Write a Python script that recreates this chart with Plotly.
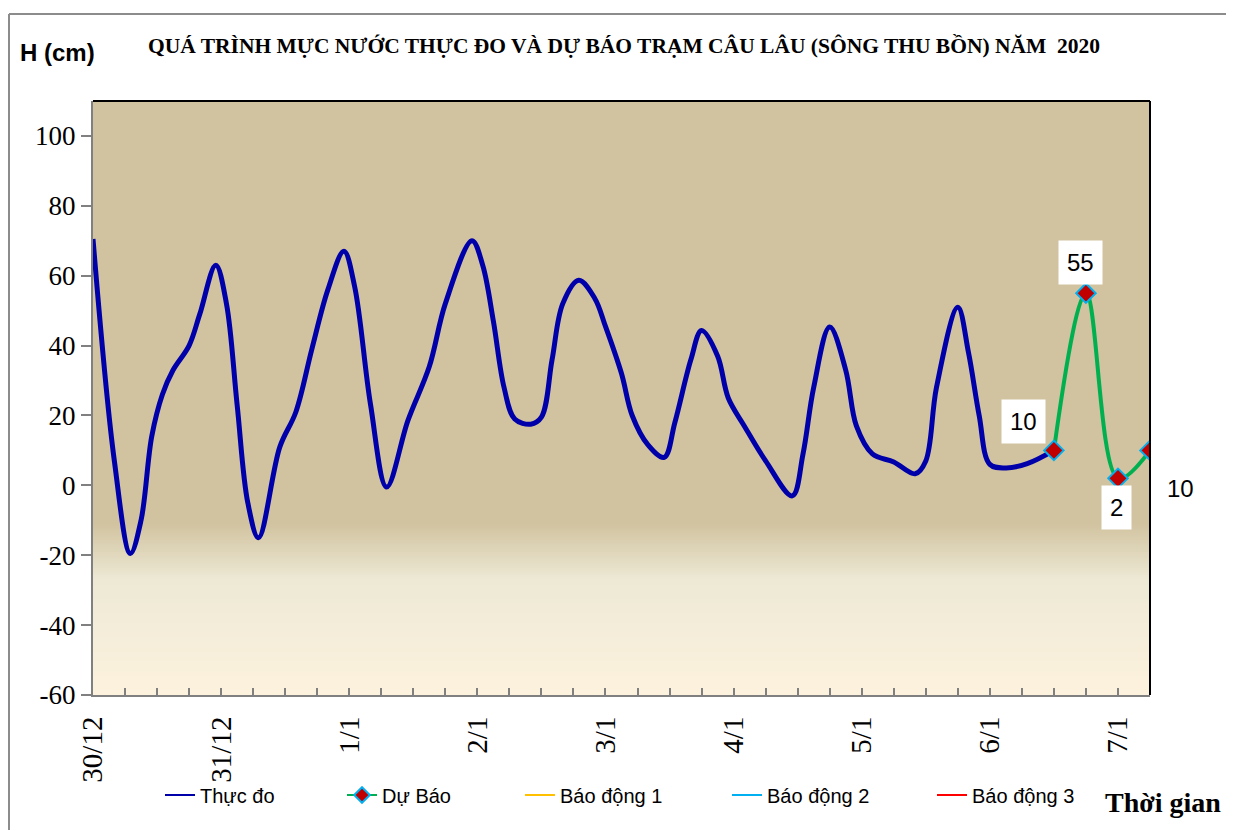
import plotly.graph_objects as go

# ---------------- data ----------------
obs_hours = [0, 4, 7, 9, 11, 13, 15, 18, 20, 23, 25, 27, 29, 31, 35, 38, 41, 44, 47, 49,
             52, 55, 59, 63, 66, 71, 73, 75, 77, 79, 82, 84, 86, 88, 91, 94, 96, 99, 101,
             104, 107, 109, 112, 114, 117, 119, 122, 126, 131, 133, 135, 138, 141, 143,
             146, 150, 154, 156, 158, 162, 164, 166, 168, 171, 175, 180]
obs_level = [70.5, 7, -19.5, -10, 14, 26, 33, 40, 49, 63, 52, 23, -5, -15, 11, 21, 39, 56, 67, 57,
             23, -0.5, 18.6, 34, 52, 70, 63, 47, 28, 19, 17.5, 19.5, 36, 52, 58.7, 53.5, 45.5, 32, 20,
             11.5, 8, 18, 36, 44.3, 37, 25, 17, 7, -3, 9, 28, 45.3, 33, 17,
             9, 6.7, 3.3, 7, 28, 51, 38, 20, 6, 5, 6.2, 10]

fc_hours = [180, 186, 192, 198]
fc_level = [10, 55, 2, 10]

alarm_names = ["Báo động 1", "Báo động 2", "Báo động 3"]
alarm_levels = [200, 300, 400]
alarm_colors = ["#FFC000", "#00B0F0", "#FF0000"]

day_labels = ["30/12", "31/12", "1/1", "2/1", "3/1", "4/1", "5/1", "6/1", "7/1"]
hours_per_day = 24

y_ticks = [-60, -40, -20, 0, 20, 40, 60, 80, 100]
y_range = [-60, 110]
x_range = [0, 198]

title_text = "QUÁ TRÌNH MỰC NƯỚC THỰC ĐO VÀ DỰ BÁO TRẠM CÂU LÂU (SÔNG THU BỒN) NĂM  2020"

# ---------------- geometry (page has an 8px body margin) ----------------
OFF = 8
W, H = 1234 - OFF, 830 - OFF
ML, MR, MT, MB = 93 - OFF, 84, 101 - OFF, 135
PW, PH = W - ML - MR, H - MT - MB


def px_x(px):
    return (px - OFF - ML) / PW


def px_y(py):
    return (H - MB - (py - OFF)) / PH


SERIF = "Liberation Serif"
SANS = "Liberation Sans"

fig = go.Figure()

fig.add_trace(go.Scatter(
    x=obs_hours, y=obs_level, mode="lines", name="Thực đo",
    line=dict(color="#0000AA", width=5, shape="spline", smoothing=1.0),
    showlegend=False,
))

fig.add_trace(go.Scatter(
    x=fc_hours, y=fc_level, mode="lines+markers", name="Dự Báo",
    line=dict(color="#00B050", width=4, shape="spline", smoothing=1.0),
    marker=dict(symbol="diamond", size=15, color="#C00000",
                line=dict(color="#00B0F0", width=2)),
    showlegend=False,
))

for nm, lv, col in zip(alarm_names, alarm_levels, alarm_colors):
    fig.add_trace(go.Scatter(
        x=[x_range[0], x_range[1]], y=[lv, lv], mode="lines", name=nm,
        line=dict(color=col, width=3), showlegend=False,
    ))

# legend entries (thin symbols as in the reference)
legend_items = [
    ("Thực đo", dict(color="#0000AA", width=2), None),
    ("Dự Báo", dict(color="#00B050", width=2),
     dict(symbol="diamond", size=12, color="#C00000", line=dict(color="#00B0F0", width=2))),
] + [(nm, dict(color=col, width=2), None) for nm, col in zip(alarm_names, alarm_colors)]

for i, (nm, ln, mk) in enumerate(legend_items):
    key = "legend" if i == 0 else "legend%d" % (i + 1)
    fig.add_trace(go.Scatter(
        x=[None], y=[None], mode="lines+markers" if mk else "lines", name=nm,
        line=ln, marker=mk, legend=key, showlegend=True, hoverinfo="skip",
    ))

annotations = []
# data labels
label_offsets = [(-30, 29, True), (-5, 31, True), (-1, -29, True), (30, -38, False)]
for hx, lv, (dx, dy, box) in zip(fc_hours, fc_level, label_offsets):
    annotations.append(dict(
        x=hx, y=lv, xref="x", yref="y", text=str(lv), showarrow=False, xshift=dx, yshift=dy,
        font=dict(family=SANS, size=24, color="black"),
        bgcolor="white" if box else "rgba(0,0,0,0)", borderpad=8,
    ))

annotations += [
    dict(xref="paper", yref="paper", x=px_x(18), y=px_y(52), text="<b>H (cm)</b>",
         showarrow=False, xanchor="left", yanchor="middle",
         font=dict(family=SANS, size=24, color="black")),
    dict(xref="paper", yref="paper", x=px_x(1223), y=px_y(802), text="<b>Thời gian</b>",
         showarrow=False, xanchor="right", yanchor="middle",
         font=dict(family=SERIF, size=28, color="black")),
]

# gradient background bands (styling); each band reaches the bottom so no seams show
shapes = []


def lerp(c1, c2, t):
    return tuple(int(round(a + (b - a) * t)) for a, b in zip(c1, c2))


tan = (209, 195, 160)
mid = (237, 233, 213)
cream = (253, 242, 222)
stops = [(-11, tan), (-27, mid), (-60, cream)]
n_sub = 24
for (v0, c0), (v1, c1) in zip(stops[:-1], stops[1:]):
    for k in range(n_sub):
        a = v0 + (v1 - v0) * k / n_sub
        c = lerp(c0, c1, (k + 0.5) / n_sub)
        shapes.append(dict(type="rect", xref="paper", yref="y", x0=0, x1=1, y0=y_range[0], y1=a,
                           fillcolor="rgb(%d,%d,%d)" % c, line=dict(width=0), layer="below"))

shapes.append(dict(type="line", xref="paper", yref="paper", x0=0, x1=1, y0=1, y1=1,
                   line=dict(color="black", width=2)))
shapes.append(dict(type="line", xref="paper", yref="paper", x0=1, x1=1, y0=0, y1=1,
                   line=dict(color="black", width=2)))
# outer chart frame
shapes.append(dict(type="line", xref="paper", yref="paper",
                   x0=px_x(9), x1=px_x(1300), y0=px_y(14), y1=px_y(14),
                   line=dict(color="#8C8C8C", width=2)))
shapes.append(dict(type="line", xref="paper", yref="paper",
                   x0=px_x(9), x1=px_x(9), y0=px_y(14), y1=px_y(900),
                   line=dict(color="#8C8C8C", width=2)))

legend_font = dict(family=SANS, size=20, color="black")
legend_x_px = [160, 342, 520, 727, 932]
legend_cfg = {}
for i, lx in enumerate(legend_x_px):
    key = "legend" if i == 0 else "legend%d" % (i + 1)
    legend_cfg[key] = dict(x=px_x(lx), y=px_y(795), xanchor="left", yanchor="middle",
                           orientation="h", font=legend_font, bgcolor="rgba(0,0,0,0)",
                           borderwidth=0, itemwidth=30)

fig.update_layout(
    width=W, height=H,
    margin=dict(l=ML, r=MR, t=MT, b=MB, pad=0, autoexpand=False),
    paper_bgcolor="white", plot_bgcolor="rgb(209,195,160)",
    title=dict(text="<b>%s</b>" % title_text, x=(624 - OFF) / W, xanchor="center",
               y=1 - (45 - OFF) / H, yanchor="middle", xref="container", yref="container",
               font=dict(family=SERIF, size=21.5, color="black")),
    shapes=shapes, annotations=annotations,
    showlegend=True,
    **legend_cfg,
    xaxis=dict(
        range=x_range, tickmode="array",
        tickvals=[i * hours_per_day for i in range(len(day_labels))], ticktext=day_labels,
        tickangle=-90, ticks="inside", ticklen=7, tickcolor="#808080", tickwidth=2,
        showline=True, linecolor="#808080", linewidth=2, showgrid=False, zeroline=False,
        tickfont=dict(family=SERIF, size=29, color="black"),
        minor=dict(dtick=6, tick0=0, ticks="inside", ticklen=7, tickcolor="#808080", tickwidth=2),
        ticklabelstandoff=8,
    ),
    yaxis=dict(
        range=y_range, tickmode="array", tickvals=y_ticks, ticktext=[str(v) for v in y_ticks],
        ticks="outside", ticklen=10, tickcolor="#808080", tickwidth=2,
        showline=True, linecolor="#808080", linewidth=2, showgrid=False, zeroline=False,
        tickfont=dict(family=SERIF, size=27, color="black"),
    ),
)

fig.write_html("out.html")
